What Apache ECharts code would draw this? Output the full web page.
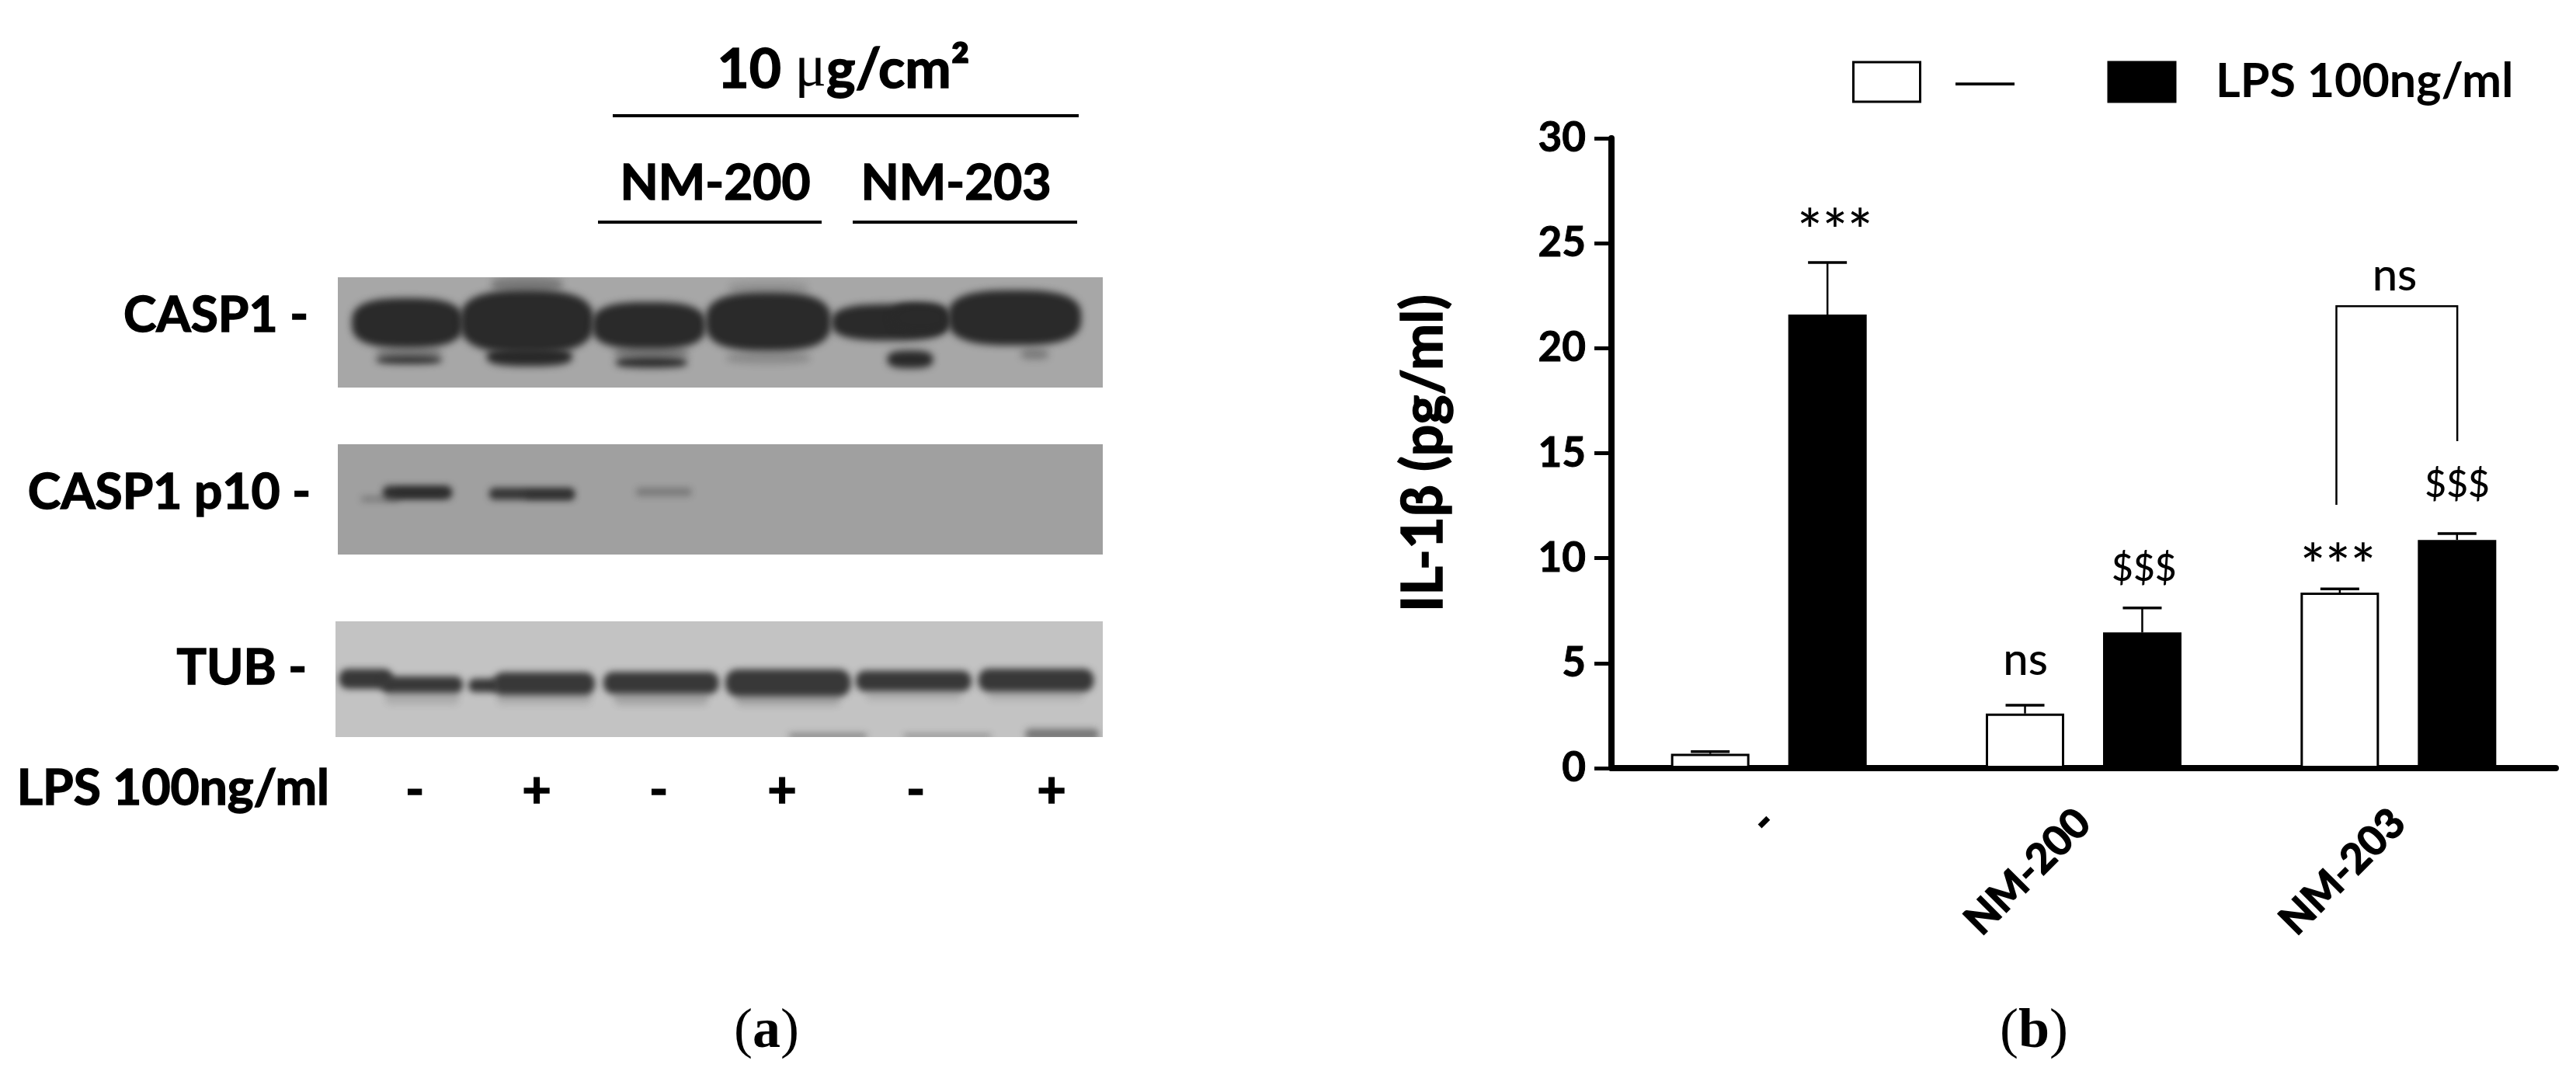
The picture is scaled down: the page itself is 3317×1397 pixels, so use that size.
<!DOCTYPE html>
<html><head><meta charset="utf-8">
<style>html,body{margin:0;padding:0;background:#fff}#c{width:3317px;height:1397px}</style>
<script src="https://cdn.jsdelivr.net/npm/echarts@6/dist/echarts.min.js"></script>
</head><body><div id="c"></div>
<script>
// ---- panel (b) data
const categories = ['-', 'NM-200', 'NM-203'];
const controlValues = [0.68, 2.6, 8.36];
const lpsValues = [21.6, 6.46, 10.87];
const controlErrors = [0.11, 0.4, 0.18];
const lpsErrors = [2.48, 1.17, 0.3];
const yTicks = {min: 0, max: 30, interval: 5};
// [category, offset within category, value], text
const annotationPoints = [[0,0.21,25.5],[1,-0.185,5.14],[1,0.192,9.47],[2,-0.192,9.55],[2,0.187,13.47],[2,-0.012,23.45]];
const annotationTexts = ['***','ns','$$$','***','$$$','ns'];
// bracket: category, left offset, right offset, top, left foot, right foot
const bracket = [[2,-0.197,0.187,22,12.54,15.57]];
// ---- panel (a) blots: [centre x, centre y, half width, half height, intensity], in gel read-off units
const casp1Bands = [
 [395,62,72,30,0.35],[880,75,80,25,0.15],[1415,330,28,20,0.35],[880,345,85,22,0.22],[158,325,65,22,0.3],[645,325,75,22,0.35],
 [158,352,66,15,1],[645,362,72,20,1],[400,340,86,36,1],[1165,350,46,34,1],
 [155,210,112,95,1],[395,205,134,120,1],[640,220,114,90,1],[880,205,126,112,1],[1125,208,118,70,1],[1185,190,58,58,1],[1375,190,134,106,1]];
const p10Bands = [[100,245,38,10,0.35],[175,220,70,26,0.95],[180,222,52,15,0.6],[405,225,86,23,0.9],[440,232,48,13,0.5],[670,218,56,16,0.32]];
const tubBands = [
 [185,325,75,24,0.15],[430,325,95,24,0.15],[665,325,95,26,0.2],[920,330,105,24,0.2],[1172,315,95,18,0.13],[1418,315,95,18,0.13],
 [1000,468,78,9,0.5],[1240,468,88,8,0.4],[1470,462,74,22,0.55],
 [72,250,54,38,1],[185,272,82,32,1],[310,275,32,26,1],[430,268,102,44,1],[665,265,116,42,1],[920,265,126,52,1],[1172,258,116,40,1],[1418,255,116,44,1]];
const gelExtents = [[15,1552,35,458],[15,1552,35,458],[11,1552,30,472]];
const laneSigns = ['-','+','-','+','-','+'];
const rowLabels = ['CASP1 -','CASP1 p10 -','TUB -'];

const FONT = 'Lato';
const W = 3317, H = 1397;
const gelGrids = [
 {left:435, width:985, top:357, height:142, backgroundColor:'#a7a7a7'},
 {left:435, width:985, top:572, height:142, backgroundColor:'#a0a0a0'},
 {left:432, width:988, top:800, height:149, backgroundColor:'#c3c3c3'}
];
const gelData = [casp1Bands, p10Bands, tubBands];
const gelBlur = [10, 8, 8];
const gelInk = ['#2a2a2a','#2a2a2a','#383838'];
const OFF = 6000;

// outline of a rounded blob (superellipse) around a band centre
function blobPoints(cx,cy,rx,ry){
  const pts=[], n=2/2.8;
  for(let k=0;k<48;k++){
    const t=k/48*2*Math.PI, co=Math.cos(t), si=Math.sin(t);
    pts.push([cx+rx*Math.sign(co)*Math.pow(Math.abs(co),n), cy+ry*Math.sign(si)*Math.pow(Math.abs(si),n)]);
  }
  return pts;
}
function gelSeries(i){
  return {type:'custom', xAxisIndex:i+1, yAxisIndex:i+1, silent:true, data:gelData[i],
    encode:{x:0,y:1},
    renderItem(p,api){
      const c = api.coord([api.value(0),api.value(1)]);
      const s = api.size([api.value(2),api.value(3)]);
      const a = api.value(4);
      const style = {fill:gelInk[i],opacity:a,shadowBlur:gelBlur[i],shadowColor:gelInk[i],shadowOffsetX:OFF};
      // the shape itself lies off-canvas: only its blurred shadow lands inside the gel
      const shape = i===0
        ? {type:'polygon',shape:{points:blobPoints(c[0]-OFF,c[1],s[0],s[1])},style}
        : {type:'rect',shape:{x:c[0]-s[0]-OFF,y:c[1]-s[1],width:2*s[0],height:2*s[1],r:0.9*Math.min(s[0],s[1])},style};
      return {type:'group', clipPath:{type:'rect',shape:{x:p.coordSys.x,y:p.coordSys.y,width:p.coordSys.width,height:p.coordSys.height}},children:[shape]};
    }};
}
const HEAVY = {stroke:'#000',lineWidth:1.5};
function txt(text,x,y,size,extra){
  return {type:'text',x,y,style:Object.assign({text,fontFamily:FONT,fontSize:size,fontWeight:700,fill:'#000',textAlign:'center',textVerticalAlign:'middle'},HEAVY,extra||{})};
}
function hline(x1,x2,y,w){return {type:'line',shape:{x1,y1:y,x2,y2:y},style:{stroke:'#000',lineWidth:w}};}

const laneX = [534,691,848,1007,1179,1354];
const graphics = [
  {type:'text',x:1086,y:90,style:{rich:{n:{fontFamily:FONT,fontSize:71,fontWeight:700,fill:'#000',stroke:'#000',lineWidth:1.5},m:{fontFamily:'"Liberation Serif"',fontSize:76,fontWeight:400,fill:'#000'}},text:'{n|10 }{m|\u03bc}{n|g/cm\u00b2}',textAlign:'center',textVerticalAlign:'middle'}},
  hline(789,1389,149,4),
  txt('NM-200',921,236,64), txt('NM-203',1231,236,64),
  hline(770,1058,286,4), hline(1098,1387,286,4),
  txt(rowLabels[0],397,406,64,{textAlign:'right'}),
  txt(rowLabels[1],400,634,64,{textAlign:'right'}),
  txt(rowLabels[2],395,860,64,{textAlign:'right'}),
  txt('LPS 100ng/ml',424,1015,64,{textAlign:'right'}),
  ...laneSigns.map((s,i)=>txt(s,laneX[i],1018,65)),
  {type:'text',x:987,y:1329,style:{rich:{p:{fontFamily:'"Liberation Serif"',fontSize:72,fill:'#000'},b:{fontFamily:'"Liberation Serif"',fontSize:72,fontWeight:700,fill:'#000'}},text:'{p|(}{b|a}{p|)}',textAlign:'center',textVerticalAlign:'middle'}},
  {type:'text',x:2619,y:1329,style:{rich:{p:{fontFamily:'"Liberation Serif"',fontSize:72,fill:'#000'},b:{fontFamily:'"Liberation Serif"',fontSize:72,fontWeight:700,fill:'#000'}},text:'{p|(}{b|b}{p|)}',textAlign:'center',textVerticalAlign:'middle'}}
];

const chart = echarts.init(document.getElementById('c'),null,{renderer:'canvas',width:W,height:H});
const hiddenAxis = (i,ext,isY)=>({type:'value',show:false,gridIndex:i+1,min:ext[isY?2:0],max:ext[isY?3:1],inverse:!!isY,splitLine:{show:false}});
chart.setOption({
  animation:false, backgroundColor:'#fff',
  grid:[
    {left:2075, width:1216, top:178, height:811, containLabel:false},
    ...gelGrids.map(g=>Object.assign({show:true,borderWidth:0},g))
  ],
  legend:{
    left:2385, top:68, padding:0, itemWidth:86, itemHeight:51, itemGap:120, selectedMode:false, itemStyle:{borderColor:'#000',borderWidth:3},
    textStyle:{fontFamily:FONT,fontSize:61,fontWeight:700,color:'#000',padding:[0,0,16,47]},
    data:[{name:'\u2014',icon:'rect',textStyle:{fontFamily:'"Liberation Serif"',fontSize:75,fontWeight:400,padding:[22,0,0,41]}},{name:'LPS 100ng/ml',icon:'rect'}]
  },
  xAxis:[
    {type:'category',gridIndex:0,data:categories,
     axisLine:{lineStyle:{color:'#000',width:8}},
     axisTick:{alignWithLabel:true,length:23,lineStyle:{color:'#000',width:4}},
     axisLabel:{rotate:45,margin:62,color:'#000',fontFamily:FONT,fontSize:53,fontWeight:700,interval:0,textBorderColor:'#000',textBorderWidth:1.5}},
    ...gelExtents.map((e,i)=>hiddenAxis(i,e,false))
  ],
  yAxis:[
    {type:'value',gridIndex:0,min:yTicks.min,max:yTicks.max,interval:yTicks.interval,
     name:'IL-1\u03b2 (pg/ml)',nameLocation:'middle',nameGap:205,nameRotate:90,
     nameTextStyle:{fontFamily:FONT,fontSize:72,fontWeight:700,color:'#000',textBorderColor:'#000',textBorderWidth:1.5},
     axisLine:{show:true,lineStyle:{color:'#000',width:8}},
     axisTick:{show:true,length:22,lineStyle:{color:'#000',width:5}},
     axisLabel:{margin:33,color:'#000',fontFamily:FONT,fontSize:53,fontWeight:700,textBorderColor:'#000',textBorderWidth:1},
     splitLine:{show:false}},
    ...gelExtents.map((e,i)=>hiddenAxis(i,e,true))
  ],
  graphic:graphics,
  series:[
    {name:'\u2014',type:'bar',data:controlValues,barWidth:101,barGap:'49.5%',itemStyle:{color:'#fff',borderColor:'#000',borderWidth:3}},
    {name:'LPS 100ng/ml',type:'bar',data:lpsValues,barWidth:101,itemStyle:{color:'#000',borderColor:'#000',borderWidth:3}},
    {type:'custom',silent:true,z:1,
     data:categories.map((c,i)=>[i,-1,controlValues[i],controlErrors[i]]).concat(categories.map((c,i)=>[i,1,lpsValues[i],lpsErrors[i]])),
     encode:{x:0,y:2},
     renderItem(p,api){
       const cat=api.value(0),side=api.value(1),v=api.value(2),e=api.value(3);
       const half=api.size([1,0])[0]*0.1862;
       const a=api.coord([cat,v]),b=api.coord([cat,v+e]);
       const x=a[0]+side*half;
       return {type:'group',children:[
         {type:'line',shape:{x1:x,y1:a[1],x2:x,y2:b[1]},style:{stroke:'#000',lineWidth:2.5}},
         {type:'line',shape:{x1:x-25,y1:b[1],x2:x+25,y2:b[1]},style:{stroke:'#000',lineWidth:3.5}}
       ]};
     }},
    {type:'custom',silent:true,data:annotationPoints,encode:{x:0,y:2},
     renderItem(p,api){
       const c=api.coord([api.value(0),api.value(2)]);
       const x=c[0]+api.value(1)*api.size([1,0])[0];
       const t=annotationTexts[p.dataIndex];
       return {type:'text',x,y:c[1],style:{text:t,fontFamily:FONT,fontSize:t==='$$$'?48:(t==='***'?76:58),fontWeight:500,fill:'#000',textAlign:'center',textVerticalAlign:'middle'}};
     }},
    {type:'custom',silent:true,data:bracket,encode:{x:0,y:3},
     renderItem(p,api){
       const cat=api.value(0),bw=api.size([1,0])[0];
       const top=api.coord([cat,api.value(3)]),lf=api.coord([cat,api.value(4)]),rf=api.coord([cat,api.value(5)]);
       const xl=top[0]+api.value(1)*bw,xr=top[0]+api.value(2)*bw;
       return {type:'polyline',shape:{points:[[xl,lf[1]],[xl,top[1]],[xr,top[1]],[xr,rf[1]]]},style:{stroke:'#000',lineWidth:2.5,fill:null}};
     }},
    gelSeries(0),gelSeries(1),gelSeries(2)
  ]
});
</script></body></html>
